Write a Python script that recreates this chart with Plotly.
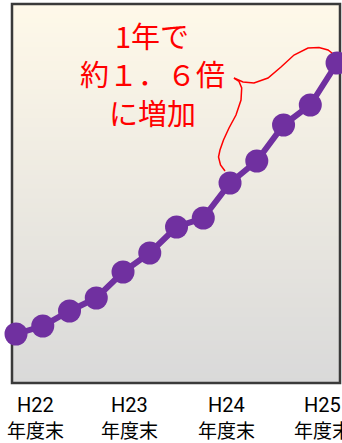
import plotly.graph_objects as go

# quarterly points (arbitrary units)
period = list(range(13))
values = [49, 57, 72, 85, 111, 130, 156, 165, 200, 222, 258, 278, 320]

# year-end labels
tick_pos = [0.71, 4.26, 7.85, 11.44]
tick_year = ["H22", "H23", "H24", "H25"]
tick_sub = "年度末"

note_lines = ["1年で", "約１．６倍", "に増加"]

W, H = 342, 443
L, R, T, B = 12, 2, 4, 60
pw, ph = W - L - R, H - T - B


def px(x, y):
    # pixel position -> paper coords
    return (x - L) / pw, (H - B - y) / ph


def path(points):
    out = []
    for i, (x, y) in enumerate(points):
        u, v = px(x, y)
        out.append(("M" if i == 0 else "L") + f" {u:.4f},{v:.4f}")
    return " ".join(out)


fig = go.Figure()
fig.add_trace(go.Scatter(
    x=period, y=values, mode="lines+markers",
    line=dict(color="#7030A0", width=6),
    marker=dict(color="#7030A0", size=23),
    cliponaxis=False, hoverinfo="skip", showlegend=False,
))

# gradient background: cream on top, grey at the bottom
# (stacked rects, each one covering up to the top, so no seams)
shapes = []
n = 80
top = (255, 249, 233)
bot = (217, 217, 217)
for i in range(n):
    t = (i + 0.5) / n
    c = tuple(round(bot[k] + (top[k] - bot[k]) * t) for k in range(3))
    shapes.append(dict(type="rect", xref="paper", yref="paper",
                       x0=0, x1=1, y0=i / n, y1=1,
                       fillcolor=f"rgb{c}", line=dict(width=0), layer="below"))

shapes.append(dict(type="rect", xref="paper", yref="paper", x0=0, x1=1, y0=0, y1=1,
                   line=dict(color="#3a3a3a", width=2.5), layer="below"))

# brace connecting text to the curve
upper = [(234, 78), (243, 82), (254, 83), (268, 78), (281, 67), (294, 55),
         (308, 48), (319, 47.5), (328, 50), (332, 53)]
lower = [(234, 78), (239, 81.5), (241.7, 88), (241, 100), (236, 115), (229, 128),
         (223.5, 140), (220, 150), (218.5, 157), (220.5, 165), (225, 171)]
for pts in (upper, lower):
    shapes.append(dict(type="path", xref="paper", yref="paper", path=path(pts),
                       line=dict(color="#FF0000", width=1.5)))

annotations = []
for i, txt in enumerate(note_lines):
    u, v = px(152, 35 + i * 38.5)
    annotations.append(dict(xref="paper", yref="paper", x=u, y=v, text=txt,
                            showarrow=False, xanchor="center", yanchor="middle",
                            font=dict(size=29, color="#FF0000",
                                      family="Noto Sans CJK JP")))

# x labels, two rows
for xv, yr in zip(tick_pos, tick_year):
    _, v1 = px(0, 405)
    _, v2 = px(0, 429)
    annotations.append(dict(xref="x", yref="paper", x=xv, y=v1, text=yr,
                            showarrow=False, xanchor="center", yanchor="middle",
                            font=dict(size=20, family="Liberation Sans Narrow, Roboto",
                                      color="black")))
    annotations.append(dict(xref="x", yref="paper", x=xv, y=v2, text=tick_sub,
                            showarrow=False, xanchor="center", yanchor="middle",
                            borderpad=0,
                            font=dict(size=19, family="Noto Sans CJK JP", color="black")))

fig.update_layout(
    width=W, height=H,
    margin=dict(l=L, r=R, t=T, b=B, autoexpand=False),
    paper_bgcolor="white", plot_bgcolor="white",
    shapes=shapes, annotations=annotations,
    font=dict(family="Noto Sans CJK JP", color="black"),
    xaxis=dict(range=[-0.15, 12.11], showticklabels=False,
               showgrid=False, zeroline=False, ticks="", showline=False,
               automargin=False),
    yaxis=dict(range=[0, 379], visible=False, automargin=False),
)

fig.write_html("out.html", config={"displayModeBar": False},
               post_script="document.body.style.margin='0';")
